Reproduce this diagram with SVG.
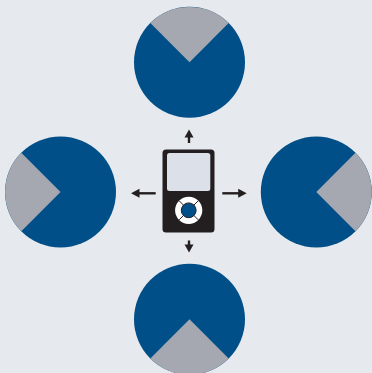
<svg xmlns="http://www.w3.org/2000/svg" width="372" height="373" viewBox="0 0 372 373">
<style>
.disc{fill:#004f88}
.wedge{fill:#a5a8b0}
.line{stroke:#231f20;stroke-width:2.4;fill:none}
.head{fill:#231f20}
</style>
<defs>
<g id="pie"><circle class="disc" r="55.5"/><path class="wedge" d="M0 0L-39.2 -39.2A55.5 55.5 0 0 1 39.2 -39.2Z"/></g>
</defs>
<rect width="372" height="373" fill="#e6e9ed"/>
<g id="pie-top"><use href="#pie" x="189.5" y="62.3"/></g>
<g id="pie-left"><use href="#pie" transform="translate(60.5 192) rotate(-90)"/></g>
<g id="pie-right"><use href="#pie" transform="translate(316.3 192) rotate(90)"/></g>
<g id="pie-bottom"><use href="#pie" transform="translate(189.5 319.3) rotate(180)"/></g>
<g id="player">
<rect x="162.5" y="149.5" width="52" height="83" rx="3.5" fill="#231f20"/>
<rect x="167" y="153" width="43.3" height="38" rx="2.5" fill="#dce0e8"/>
<circle cx="188.7" cy="210.3" r="13.6" fill="#fff"/>
<path d="M179.1 200.7L198.3 219.9M198.3 200.7L179.1 219.9" stroke="#231f20" stroke-width="1"/>
<circle cx="188.7" cy="210.3" r="7.4" fill="#004f88" stroke="#231f20" stroke-width="1"/>
</g>
<g id="connectors">
<path class="line" d="M189 143V135"/><path class="head" d="M189 129.5L193.5 137.5H184.5Z"/>
<path class="line" d="M189 240.5V246"/><path class="head" d="M189 252.5L184.5 244.5H193.5Z"/>
<path class="line" d="M155.7 193.3H139"/><path class="head" d="M131 193.3L139.5 188.8V197.8Z"/>
<path class="line" d="M222.3 193.3H239"/><path class="head" d="M246.7 193.3L238.2 188.8V197.8Z"/>
</g>
</svg>
